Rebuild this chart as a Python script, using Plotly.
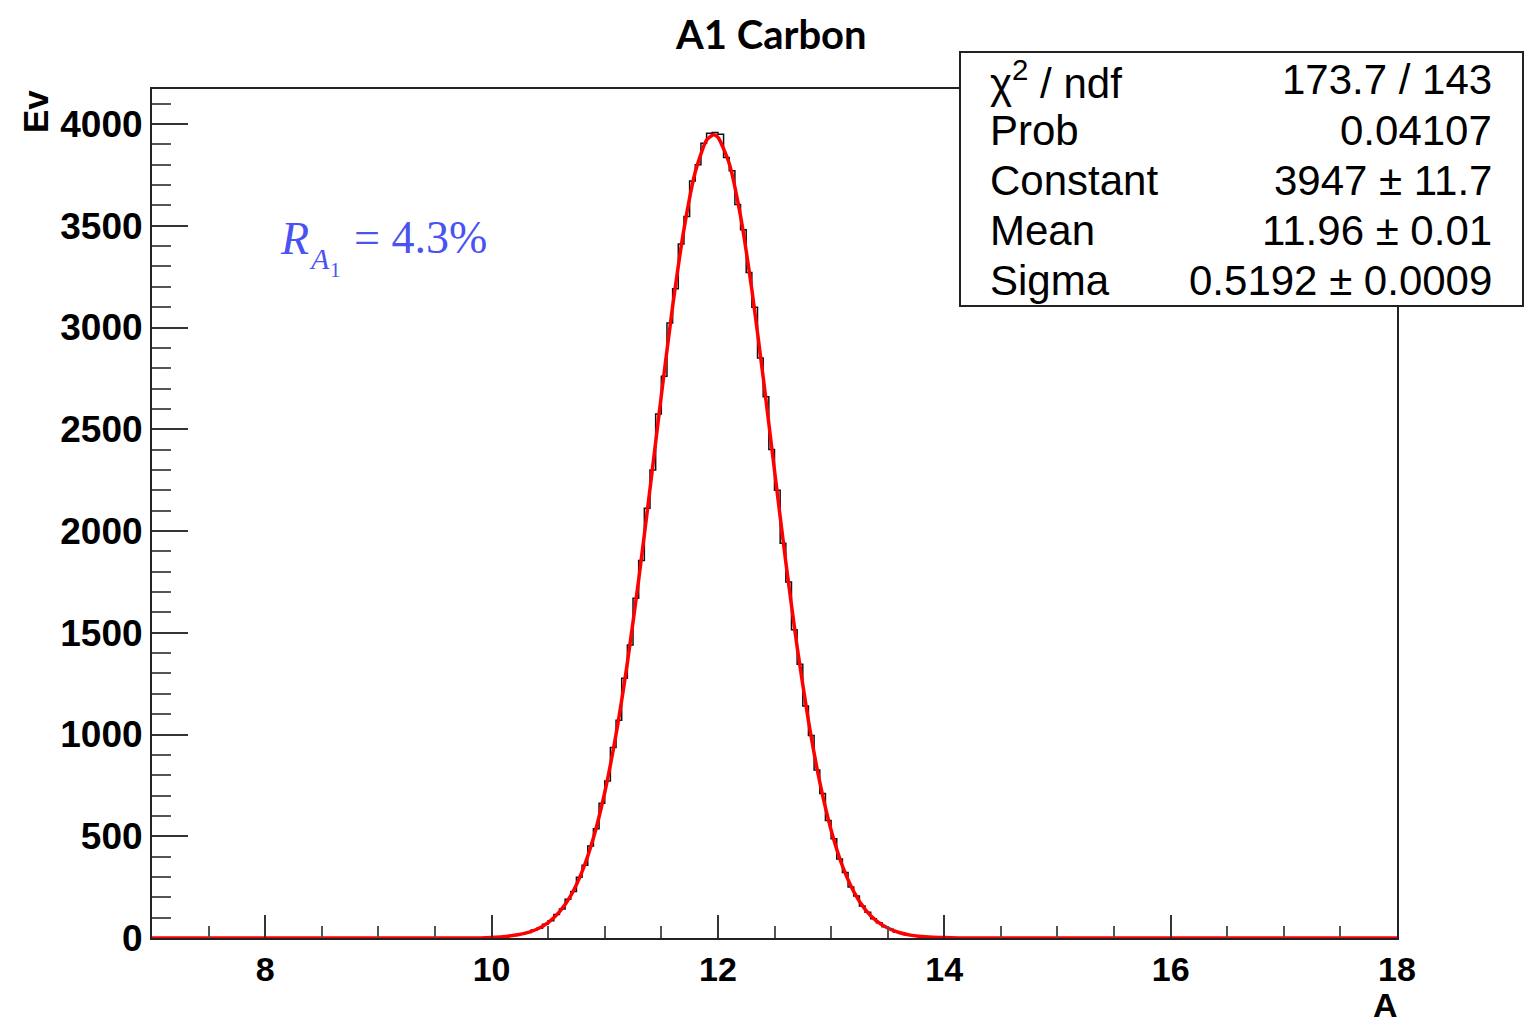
import numpy as np
import plotly.graph_objects as go

# histogram: bins of 0.05 from 10.0 to 14.0 (everything else empty)
bin_lo = 10.0
bin_w = 0.05
counts = [4, 6, 9, 12, 14, 21, 27, 39, 48, 68,
          85, 116, 142, 190, 228, 298, 357, 452, 537, 662,
          772, 936, 1070, 1276, 1440, 1670, 1855, 2112, 2300, 2575,
          2760, 3022, 3190, 3410, 3545, 3720, 3800, 3905, 3955, 3958,
          3950, 3835, 3770, 3605, 3480, 3270, 3100, 2850, 2660, 2400,
          2200, 1940, 1750, 1515, 1345, 1140, 995, 826, 710, 578,
          488, 388, 322, 251, 206, 157, 127, 94, 75, 55,
          43, 30, 24, 16, 12, 8, 6, 4, 3, 2]

# red fit curve, read at these x positions
fit_x = [7.0, 9.8, 10.0, 10.1, 10.2, 10.3, 10.4, 10.5, 10.6, 10.7, 10.8, 10.9,
         11.0, 11.1, 11.2, 11.3, 11.4, 11.5, 11.6, 11.7, 11.8, 11.9, 11.96,
         12.0, 12.1, 12.2, 12.3, 12.4, 12.5, 12.6, 12.7, 12.8, 12.9,
         13.0, 13.1, 13.2, 13.3, 13.4, 13.5, 13.6, 13.7, 13.8, 13.9, 14.0, 14.2, 18.0]
fit_y = [0, 0, 3, 6, 13, 24, 43, 76, 128, 208, 326, 491,
         715, 1001, 1352, 1760, 2206, 2666, 3104, 3482, 3764, 3921, 3947,
         3935, 3806, 3547, 3185, 2756, 2298, 1846, 1430, 1067, 766,
         531, 354, 228, 141, 84, 49, 27, 14, 7, 4, 2, 0, 0]

stat_names = ["χ<sup>2</sup> / ndf", "Prob", "Constant", "Mean", "Sigma"]
stat_vals = ["173.7 / 143", "0.04107", "3947 ± 11.7", "11.96 ± 0.01", "0.5192 ± 0.0009"]

x_range = [7, 18]
y_range = [0, 4172]

# step outline: edges + contents
edges = [bin_lo + bin_w * i for i in range(len(counts) + 1)]
hx = [x_range[0]] + edges + [x_range[1]]
hy = [0] + counts + [0, 0]

# page has an 8px body margin, so the figure starts at (8, 8)
OFF = 8
W, H = 1524, 1015
FX0, FX1, FY0, FY1 = 152, 1397, 89, 938  # frame in screen pixels
L = FX0 - OFF
T = FY0 - OFF
R = W + OFF - FX1
B = H + OFF - FY1


def px(x):
    return (x - FX0) / (FX1 - FX0)


def py(y):
    return (FY1 - y) / (FY1 - FY0)


fig = go.Figure()
fig.add_trace(go.Scatter(x=hx, y=hy, mode="lines", line=dict(color="#111", width=1.5, shape="hv"),
                         hoverinfo="skip", showlegend=False))
fig.add_trace(go.Scatter(x=fit_x, y=fit_y, mode="lines",
                         line=dict(color="#ff0000", width=3.5, shape="spline", smoothing=0.6),
                         showlegend=False))

tickfont = dict(family="Liberation Sans", size=37, color="black", weight="bold")
fig.update_xaxes(range=x_range, dtick=2, tick0=0, ticks="inside", ticklen=23, tickwidth=2,
                 tickcolor="#333", showline=True, mirror=True, linecolor="#222", linewidth=2,
                 showgrid=False, zeroline=False, tickfont=dict(tickfont, size=34),
                 ticklabelstandoff=0,
                 minor=dict(dtick=0.5, ticks="inside", ticklen=12, tickwidth=2, tickcolor="#555"))
fig.update_yaxes(range=y_range, dtick=500, ticks="inside", ticklen=36, tickwidth=2,
                 tickcolor="#333", showline=True, mirror=True, linecolor="#222", linewidth=2,
                 showgrid=False, zeroline=False, tickfont=tickfont,
                 minor=dict(dtick=100, ticks="inside", ticklen=19, tickwidth=2, tickcolor="#555"))

# stats box
fig.add_shape(type="rect", xref="paper", yref="paper", x0=px(960), x1=px(1523), y0=py(306), y1=py(52),
              fillcolor="white", line=dict(color="#222", width=2), layer="above")

ann = []
rows = [80, 130, 180, 231, 280]
sfont = dict(family="Liberation Sans", size=42, color="black")
for name, val, yy in zip(stat_names, stat_vals, rows):
    ann.append(dict(x=px(988), y=py(yy), xref="paper", yref="paper", text=name, showarrow=False,
                    xanchor="left", yanchor="middle", font=sfont))
    ann.append(dict(x=px(1494), y=py(yy), xref="paper", yref="paper", text=val, showarrow=False,
                    xanchor="right", yanchor="middle", font=sfont))

# title and axis titles
ann.append(dict(x=px(771), y=py(34), xref="paper", yref="paper", text="A1 Carbon", showarrow=False,
                xanchor="center", yanchor="middle", borderpad=0,
                font=dict(family="Lato", size=40, color="black", weight="bold")))
ann.append(dict(x=px(36), y=py(112), xref="paper", yref="paper", text="Ev", showarrow=False,
                textangle=-90, xanchor="center", yanchor="middle",
                font=dict(family="Liberation Sans", size=35, color="black", weight="bold")))
ann.append(dict(x=px(1385), y=py(1005), xref="paper", yref="paper", text="A", showarrow=False,
                xanchor="center", yanchor="middle",
                font=dict(family="Liberation Sans", size=34, color="black", weight="bold")))

# resolution label
blue = "#4b52f2"
ann.append(dict(x=px(278), y=py(238), xref="paper", yref="paper", text="<i>R</i>", showarrow=False,
                xanchor="left", yanchor="middle", font=dict(family="Liberation Serif", size=46, color=blue)))
ann.append(dict(x=px(307), y=py(259), xref="paper", yref="paper", text="<i>A</i>", showarrow=False,
                xanchor="left", yanchor="middle", font=dict(family="Liberation Serif", size=30, color=blue)))
ann.append(dict(x=px(328), y=py(270), xref="paper", yref="paper", text="1", showarrow=False,
                xanchor="left", yanchor="middle", font=dict(family="Liberation Serif", size=21, color=blue)))
ann.append(dict(x=px(352), y=py(237), xref="paper", yref="paper", text="= 4.3%", showarrow=False,
                xanchor="left", yanchor="middle", font=dict(family="Liberation Serif", size=46, color=blue)))

fig.update_layout(width=W, height=H, margin=dict(l=L, r=R, t=T, b=B),
                  paper_bgcolor="white", plot_bgcolor="white", annotations=ann, showlegend=False)

fig.write_html("out.html")
